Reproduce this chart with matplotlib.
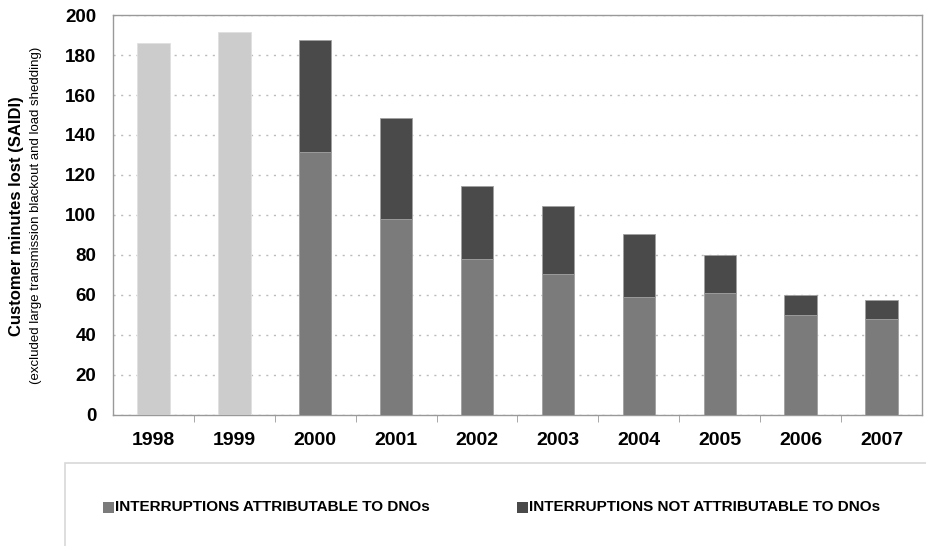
import matplotlib.pyplot as plt
from matplotlib.patches import Rectangle

plt.rcParams['font.family'] = ['Liberation Sans', 'DejaVu Sans']

years = ['1998', '1999', '2000', '2001', '2002', '2003', '2004', '2005', '2006', '2007']
# 1998-1999 only have a total figure
total_early = [186, 191.5]
attributable = [131.5, 98, 78, 70.5, 59, 61, 50, 48]
not_attributable = [56, 50.5, 36.5, 34, 31.5, 19, 10, 9.5]

c_early = '#cccccc'
c_attr = '#7b7b7b'
c_not = '#4a4a4a'

fig = plt.figure(figsize=(9.26, 5.46), dpi=100)
ax = fig.add_axes([0.122, 0.24, 0.8737, 0.7325])

x = list(range(len(years)))
w = 0.4
ax.bar(x[:2], total_early, width=w, color=c_early, edgecolor='#e0e0e0', linewidth=0.6, zorder=3)
ax.bar(x[2:], attributable, width=w, color=c_attr, edgecolor='#a0a0a0', linewidth=0.6, zorder=3)
ax.bar(x[2:], not_attributable, width=w, bottom=attributable, color=c_not,
       edgecolor='#a0a0a0', linewidth=0.6, zorder=3)

ax.set_xlim(-0.5, len(years) - 0.5)
ax.set_ylim(0, 200)
ax.set_yticks(range(0, 201, 20))
ax.yaxis.grid(True, linestyle=(0, (1.5, 4)), color='#bbbbbb', linewidth=1.0, zorder=0)
for s in ax.spines.values():
    s.set_color('#999999')
    s.set_linewidth(1.0)

ax.set_xticks(x)
ax.set_xticklabels(years, fontsize=14, fontweight='bold')
ax.set_xticks([i + 0.5 for i in x[:-1]], minor=True)
ax.tick_params(axis='x', which='major', length=0, pad=12)
ax.tick_params(axis='x', which='minor', length=5, color='#999999')
ax.tick_params(axis='y', length=0, pad=12, labelsize=13.5)
for lab in ax.get_yticklabels():
    lab.set_fontweight('bold')

fig.text(0.018, 0.605, 'Customer minutes lost (SAIDI)', rotation=90, ha='center', va='center',
         fontsize=12, fontweight='bold')
fig.text(0.039, 0.605, '(excluded large transmission blackout and load shedding)', rotation=90,
         ha='center', va='center', fontsize=9.5)

# legend panel below the chart
panel = Rectangle((0.070, -0.01), 0.94, 0.162, transform=fig.transFigure, facecolor='white',
                  edgecolor='#d8d8d8', linewidth=1.2)
fig.add_artist(panel)
for xm, col, text in [(0.111, c_attr, 'INTERRUPTIONS ATTRIBUTABLE TO DNOs'),
                      (0.558, c_not, 'INTERRUPTIONS NOT ATTRIBUTABLE TO DNOs')]:
    fig.add_artist(Rectangle((xm, 0.061), 0.012, 0.02, transform=fig.transFigure,
                             facecolor=col, edgecolor='none'))
    fig.text(xm + 0.0135, 0.071, text, ha='left', va='center', fontsize=11, fontweight='bold')

fig.savefig('out.png', dpi=100)
